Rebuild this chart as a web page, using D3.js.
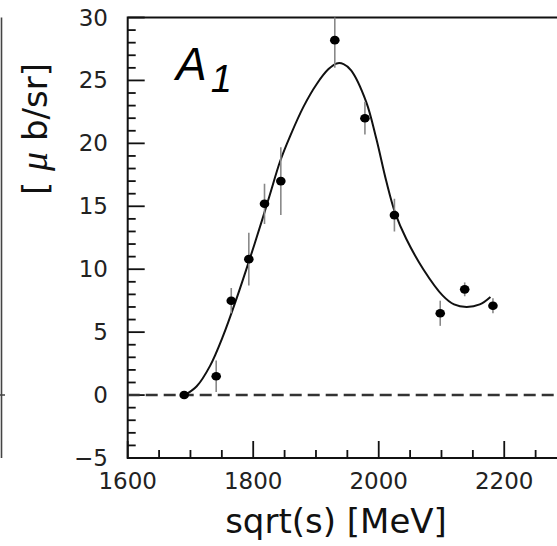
<!DOCTYPE html>
<html>
<head>
<meta charset="utf-8">
<script src="https://cdn.jsdelivr.net/npm/d3@7"></script>
<style>
  body { margin: 0; background: #fff; }
  svg { display: block; }
</style>
</head>
<body>
<svg id="chart" width="557" height="546"></svg>
<script>
'use strict';

// data
const energies = [1690, 1741, 1765, 1793, 1818, 1844, 1930, 1978, 2025, 2098, 2137, 2182];
const values   = [0, 1.5, 7.5, 10.8, 15.2, 17.0, 28.2, 22.0, 14.3, 6.5, 8.4, 7.1];
const errors   = [0, 1.25, 1.0, 2.1, 1.6, 2.7, 2.2, 1.3, 1.3, 1.0, 0.55, 0.6];

// fitted curve
const fitE = [1691, 1710, 1731, 1752, 1773, 1795, 1816, 1827, 1843, 1859, 1880, 1901, 1920, 1933,
              1944, 1956, 1980, 1996, 2012, 2026, 2044, 2071, 2102, 2120, 2140, 2161, 2178];
const fitV = [0, 0.7, 2.3, 4.7, 7.6, 10.9, 14.2, 16.0, 18.6, 20.6, 22.9, 24.7, 25.9, 26.35,
              26.3, 25.8, 23.3, 20.4, 17.0, 14.5, 12.4, 10.0, 7.9, 7.2, 7.0, 7.2, 7.8];

const xTicks = [1600, 1800, 2000, 2200];
const yTicks = [-5, 0, 5, 10, 15, 20, 25, 30];

(function () {
    const svg = d3.select("#chart");
    const left = 127.7, right = 567, top = 17.5, bottom = 458;
    const ink = "#111";

    const x = d3.scaleLinear().domain([1600, 2300]).range([left, right]);
    const y = d3.scaleLinear().domain([-5, 30]).range([bottom, top]);

    svg.append("clipPath").attr("id", "clip")
        .append("rect")
        .attr("x", left).attr("y", top)
        .attr("width", right - left).attr("height", bottom - top);

    // edge of the neighbouring panel
    svg.append("path")
        .attr("d", `M1.5,${top}V${bottom}M0,${y(0)}H5`)
        .attr("fill", "none").attr("stroke", "#444").attr("stroke-width", 1.6);

    // ticks (pointing inward)
    const xMinor = d3.range(1650, 2300, 50).filter(d => d % 200 !== 0);
    const yMinor = d3.range(-4, 30, 1).filter(d => d % 5 !== 0);
    const tickG = svg.append("g").attr("class", "ticks");
    tickG.selectAll("rect.xt").data(xMinor.map(d => [d, 8]).concat(xTicks.map(d => [d, 17])))
        .enter().append("rect").attr("class", "xt")
        .attr("x", d => x(d[0]) - 0.9).attr("y", d => bottom - d[1])
        .attr("width", 1.8).attr("height", d => d[1])
        .attr("fill", ink);
    tickG.selectAll("rect.yt").data(yMinor.map(d => [d, 8]).concat(yTicks.map(d => [d, 17])))
        .enter().append("rect").attr("class", "yt")
        .attr("x", left).attr("y", d => y(d[0]) - 0.9)
        .attr("width", d => d[1]).attr("height", 1.8)
        .attr("fill", ink);

    // tick labels
    const fmt = d => d < 0 ? "\u2212" + Math.abs(d) : String(d);
    svg.selectAll("text.xlab").data(xTicks).enter().append("text")
        .attr("class", "xlab")
        .attr("x", d => x(d)).attr("y", 488.5)
        .attr("text-anchor", "middle")
        .attr("font-family", "DejaVu Sans").attr("font-size", 23)
        .attr("fill", "#222")
        .text(fmt);
    svg.selectAll("text.ylab").data(yTicks).enter().append("text")
        .attr("class", "ylab")
        .attr("x", 108).attr("y", d => y(d) + 8)
        .attr("text-anchor", "end")
        .attr("font-family", "DejaVu Sans").attr("font-size", 23)
        .attr("fill", "#222")
        .text(fmt);

    // frame
    svg.append("path")
        .attr("d", `M${right},${top}H${left}V${bottom}H${right}`)
        .attr("fill", "none").attr("stroke", ink).attr("stroke-width", 2);

    // axis titles
    svg.append("text")
        .attr("x", 336).attr("y", 532.5)
        .attr("text-anchor", "middle")
        .attr("font-family", "DejaVu Sans").attr("font-size", 34)
        .attr("fill", "#111")
        .text("sqrt(s) [MeV]");

    const yt = svg.append("text")
        .attr("transform", "translate(47,129) rotate(-90)")
        .attr("text-anchor", "middle")
        .attr("font-family", "DejaVu Sans").attr("font-size", 34)
        .attr("fill", "#111");
    yt.append("tspan").text("[ ");
    yt.append("tspan").attr("font-family", "Liberation Serif").attr("font-style", "italic")
        .attr("font-size", 38).text("\u03bc");
    yt.append("tspan").text(" b/sr]");

    // panel label
    const lab = svg.append("text")
        .attr("x", 176).attr("y", 80)
        .attr("font-family", "Liberation Sans").attr("font-style", "italic")
        .attr("font-size", 46).attr("fill", "#000");
    lab.append("tspan").text("A");
    lab.append("tspan").attr("dx", 4).attr("dy", 12).attr("font-size", 38).text("1");

    const plot = svg.append("g").attr("clip-path", "url(#clip)");

    // zero line
    plot.append("line")
        .attr("x1", left).attr("x2", right)
        .attr("y1", y(0)).attr("y2", y(0))
        .attr("stroke", "#333").attr("stroke-width", 2.6)
        .attr("stroke-dasharray", "12,6");

    // fit curve
    const fit = fitE.map((e, i) => [e, fitV[i]]);
    plot.append("path")
        .datum(fit)
        .attr("d", d3.line().x(d => x(d[0])).y(d => y(d[1])).curve(d3.curveCatmullRom.alpha(0.5)))
        .attr("fill", "none").attr("stroke", "#111").attr("stroke-width", 2);

    // error bars and points
    const pts = energies.map((e, i) => ({ e: e, v: values[i], err: errors[i] }));
    plot.selectAll("line.err").data(pts.filter(d => d.err > 0)).enter().append("line")
        .attr("class", "err")
        .attr("x1", d => x(d.e)).attr("x2", d => x(d.e))
        .attr("y1", d => y(d.v - d.err)).attr("y2", d => y(d.v + d.err))
        .attr("stroke", "#888").attr("stroke-width", 1.6);
    plot.selectAll("ellipse.pt").data(pts).enter().append("ellipse")
        .attr("class", "pt")
        .attr("cx", d => x(d.e)).attr("cy", d => y(d.v))
        .attr("rx", 4.8).attr("ry", 4.3)
        .attr("fill", "#000");
})();
</script>
</body>
</html>
